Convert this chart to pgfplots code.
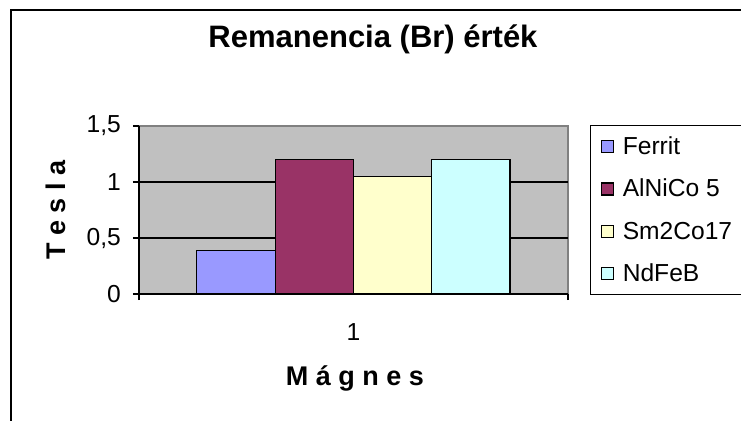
\documentclass[border=0pt]{standalone}
\usepackage{fontspec}
\setmainfont{Liberation Sans}
\usepackage{pgfplots}
\pgfplotsset{compat=1.18}

\definecolor{plotgray}{HTML}{C0C0C0}
\definecolor{cFerrit}{HTML}{9999FF}
\definecolor{cAlnico}{HTML}{993366}
\definecolor{cSmCo}{HTML}{FFFFCC}
\definecolor{cNdFeB}{HTML}{CCFFFF}

\pgfplotsset{
  sq/.style={legend image code/.code={
    \draw[##1, draw=black, line width=0.6pt] (0pt,-3pt) rectangle (6pt,3pt);
    \path (10.5pt,0pt);}},
}

\begin{document}
\begin{tikzpicture}
% page = 741 x 420 px, 1 px = 0.5 pt
\useasboundingbox (0,0) rectangle (370.5pt,210pt);
\draw[line width=0.9pt] (5.5pt,-3pt) -- (5.5pt,205pt) -- (375pt,205pt);

\begin{axis}[
  at={(69.5pt,63pt)},
  anchor=south west,
  scale only axis,
  width=214.5pt,
  height=84pt,
  xmin=0, xmax=2,
  ymin=0, ymax=1.5,
  ybar=0pt,
  bar width=39.15pt,
  axis background/.style={fill=plotgray, draw=gray, line width=0.6pt},
  axis x line*=bottom,
  axis y line*=left,
  axis line style={black, line width=0.6pt},
  ytick={0,0.5,1,1.5},
  extra y ticks={0.5,1},
  extra y tick labels={},
  extra y tick style={grid=major, major tick length=0pt},
  grid style={black, line width=0.6pt},
  tick align=outside,
  major tick length=3pt,
  tick style={black, line width=0.6pt},
  xtick={0,2},
  xticklabels={,},
  extra x ticks={1},
  extra x tick labels={1},
  extra x tick style={major tick length=0pt},
  xticklabel style={anchor=north, yshift=-11.5pt},
  /pgf/number format/use comma,
  /pgf/number format/assume math mode=true,
  tick label style={font=\fontsize{12.3}{14}\selectfont},
  yticklabel style={xshift=-2.5pt},
  title={Remanencia (Br) érték},
  title style={at={(0.5455,1.447)}, anchor=center,
    font=\fontsize{15.5}{18}\selectfont\bfseries},
  xlabel={M á g n e s},
  xlabel style={at={(0.5035,-0.5)}, anchor=center,
    font=\fontsize{13.5}{16}\selectfont\bfseries},
  ylabel={T e s l a},
  ylabel style={at={(-0.193,0.5)}, anchor=center,
    font=\fontsize{13.5}{16}\selectfont\bfseries},
  legend style={
    at={(1.0513,1.006)},
    anchor=north west,
    draw=black,
    line width=0.6pt,
    fill=white,
    font=\fontsize{12.3}{14}\selectfont,
    inner xsep=5pt,
    inner ysep=4.5pt,
    row sep=9.2pt,
    nodes={inner sep=0pt, text height=10pt, text depth=2pt, anchor=west},
  },
  legend cell align=left,
]
\addplot[fill=cFerrit, draw=black, line width=0.6pt, sq] coordinates {(1,0.39)};
\addlegendentry{Ferrit}
\addplot[fill=cAlnico, draw=black, line width=0.6pt, sq] coordinates {(1,1.2)};
\addlegendentry{AlNiCo 5}
\addplot[fill=cSmCo, draw=black, line width=0.6pt, sq] coordinates {(1,1.05)};
\addlegendentry{Sm2Co17}
\addplot[fill=cNdFeB, draw=black, line width=0.6pt, sq] coordinates {(1,1.2)};
\addlegendentry{NdFeB}
\end{axis}
\end{tikzpicture}
\end{document}
